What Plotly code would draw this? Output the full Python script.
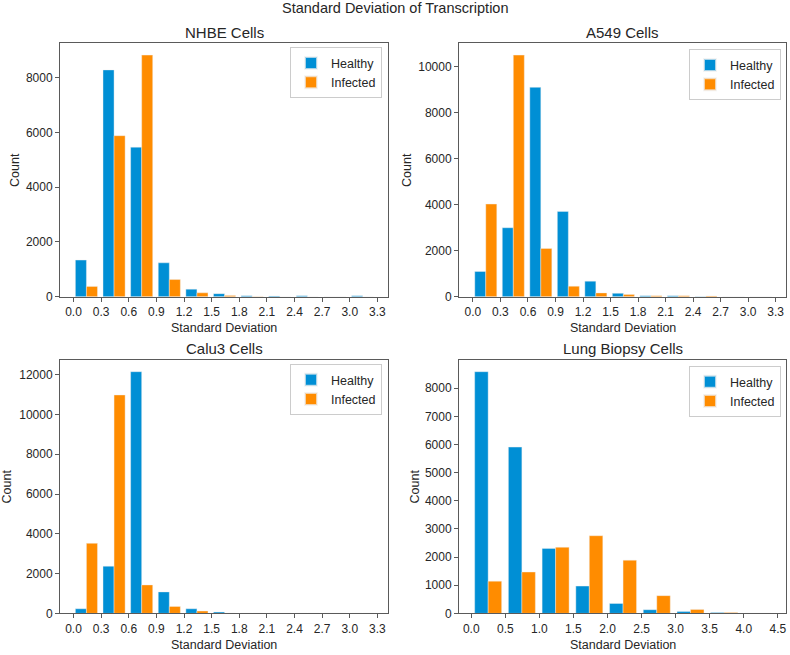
import plotly.graph_objects as go

# ---- data ----
bins_std = [0.14, 0.44, 0.74, 1.04, 1.34, 1.64, 1.94, 2.24, 2.54, 2.84, 3.14]
bins_lung = [0.248, 0.743, 1.238, 1.733, 2.228, 2.723, 3.218, 3.713, 4.208]

nhbe_healthy = [1340, 8280, 5460, 1240, 280, 115, 40, 30, 35, 0, 35]
nhbe_infected = [380, 5880, 8820, 630, 145, 50, 15, 0, 0, 0, 0]

a549_healthy = [1100, 3000, 9100, 3710, 680, 150, 45, 45, 10, 0, 0]
a549_infected = [4030, 10500, 2100, 460, 170, 95, 45, 45, 40, 0, 0]

calu3_healthy = [232, 2370, 12150, 1080, 232, 66, 0, 0, 0, 0, 0]
calu3_infected = [3520, 10980, 1430, 350, 116, 10, 0, 0, 0, 0, 0]

lung_healthy = [8590, 5910, 2310, 970, 350, 130, 70, 30, 0]
lung_infected = [1145, 1470, 2350, 2760, 1890, 630, 140, 30, 0]

ticks_std = [0.0, 0.3, 0.6, 0.9, 1.2, 1.5, 1.8, 2.1, 2.4, 2.7, 3.0, 3.3]
ticks_lung = [0.0, 0.5, 1.0, 1.5, 2.0, 2.5, 3.0, 3.5, 4.0, 4.5]

yticks_nhbe = [0, 2000, 4000, 6000, 8000]
yticks_a549 = [0, 2000, 4000, 6000, 8000, 10000]
yticks_calu3 = [0, 2000, 4000, 6000, 8000, 10000, 12000]
yticks_lung = [0, 1000, 2000, 3000, 4000, 5000, 6000, 7000, 8000]

titles = ["NHBE Cells", "A549 Cells", "Calu3 Cells", "Lung Biopsy Cells"]
series_names = ["Healthy", "Infected"]

# ---- style ----
W, H = 790, 655
BLUE = "#008fd5"
ORANGE = "#ff8c00"
FONT = "Liberation Sans, Arial, sans-serif"
AXC = "#5a5a5a"
TXT = "#262626"

panels = [
    (bins_std, nhbe_healthy, nhbe_infected, ticks_std, yticks_nhbe, (-0.147, 3.415), (60, 388), (43.5, 300)),
    (bins_std, a549_healthy, a549_infected, ticks_std, yticks_a549, (-0.152, 3.413), (459, 786), (43.5, 300)),
    (bins_std, calu3_healthy, calu3_infected, ticks_std, yticks_calu3, (-0.147, 3.415), (60, 388), (363.5, 620)),
    (bins_lung, lung_healthy, lung_infected, ticks_lung, yticks_lung, (-0.18, 4.62), (459, 786), (363.5, 620)),
]
legend_boxes = [(382, 48), (781, 50), (382, 368), (781, 370)]
ytitle_x = [15, 407, 7, 415]

fig = go.Figure()
annotations = []
layout = {}

for i, (bx, hv, iv, tks, ytks, xr, (px0, px1), (py0, py1)) in enumerate(panels):
    n = i + 1
    xa = "x" if n == 1 else f"x{n}"
    ya = "y" if n == 1 else f"y{n}"
    leg = "legend" if n == 1 else f"legend{n}"
    for name, vals, col in ((series_names[0], hv, BLUE), (series_names[1], iv, ORANGE)):
        fig.add_trace(go.Bar(
            x=bx, y=vals, name=name, xaxis=xa, yaxis=ya, legend=leg,
            marker=dict(color=col, line=dict(color="rgba(240,240,240,0.7)", width=0.6)),
            showlegend=True,
        ))
    ymax = 1.05 * max(max(hv), max(iv))
    common = dict(showline=True, linecolor=AXC, linewidth=1, mirror=True,
                  ticks="outside", ticklen=4, tickwidth=1, tickcolor=AXC,
                  showgrid=False, zeroline=False,
                  tickfont=dict(family=FONT, size=12, color=TXT))
    layout["xaxis" if n == 1 else f"xaxis{n}"] = dict(
        domain=[px0 / W, px1 / W], anchor=ya, range=list(xr),
        tickvals=tks, ticktext=[f"{t:.1f}" for t in tks], **common)
    layout["yaxis" if n == 1 else f"yaxis{n}"] = dict(
        domain=[1 - py1 / H, 1 - py0 / H], anchor=xa, range=[0, ymax],
        tickvals=ytks, ticktext=[str(t) for t in ytks], **common)
    lx, ly = legend_boxes[i]
    layout[leg] = dict(
        x=lx / W, y=1 - ly / H, xanchor="right", yanchor="top",
        xref="paper", yref="paper",
        bgcolor="rgba(255,255,255,0.85)", bordercolor="#cccccc", borderwidth=1,
        font=dict(family=FONT, size=12.5, color=TXT),
        tracegroupgap=0, itemsizing="constant",
    )
    cx = (px0 + px1) / 2 / W
    # subplot title
    annotations.append(dict(text=titles[i], x=cx, y=1 - (py0 - 11) / H, xref="paper", yref="paper",
                            xanchor="center", yanchor="middle", showarrow=False,
                            font=dict(family=FONT, size=15, color=TXT)))
    # x axis title
    annotations.append(dict(text="Standard Deviation", x=cx, y=1 - (py1 + 32) / H,
                            xref="paper", yref="paper", xanchor="center", yanchor="middle",
                            showarrow=False, font=dict(family=FONT, size=12.5, color=TXT)))
    # y axis title
    annotations.append(dict(text="Count", x=ytitle_x[i] / W, y=1 - (py0 + py1) / 2 / H,
                            xref="paper", yref="paper", xanchor="center", yanchor="middle",
                            textangle=-90, showarrow=False,
                            font=dict(family=FONT, size=12.5, color=TXT)))

annotations.append(dict(text="Standard Deviation of Transcription", x=0.5, y=1 - 8.5 / H,
                        xref="paper", yref="paper", xanchor="center", yanchor="middle",
                        showarrow=False, font=dict(family=FONT, size=14.5, color=TXT)))

fig.update_layout(
    width=W, height=H,
    margin=dict(l=0, r=0, t=0, b=0),
    paper_bgcolor="white", plot_bgcolor="white",
    barmode="group", bargap=0.2, bargroupgap=0,
    annotations=annotations,
    **layout,
)

fig.write_html(
    "out.html",
    config={"displayModeBar": False},
    post_script="document.body.style.margin='0';document.body.style.overflow='hidden';",
)
